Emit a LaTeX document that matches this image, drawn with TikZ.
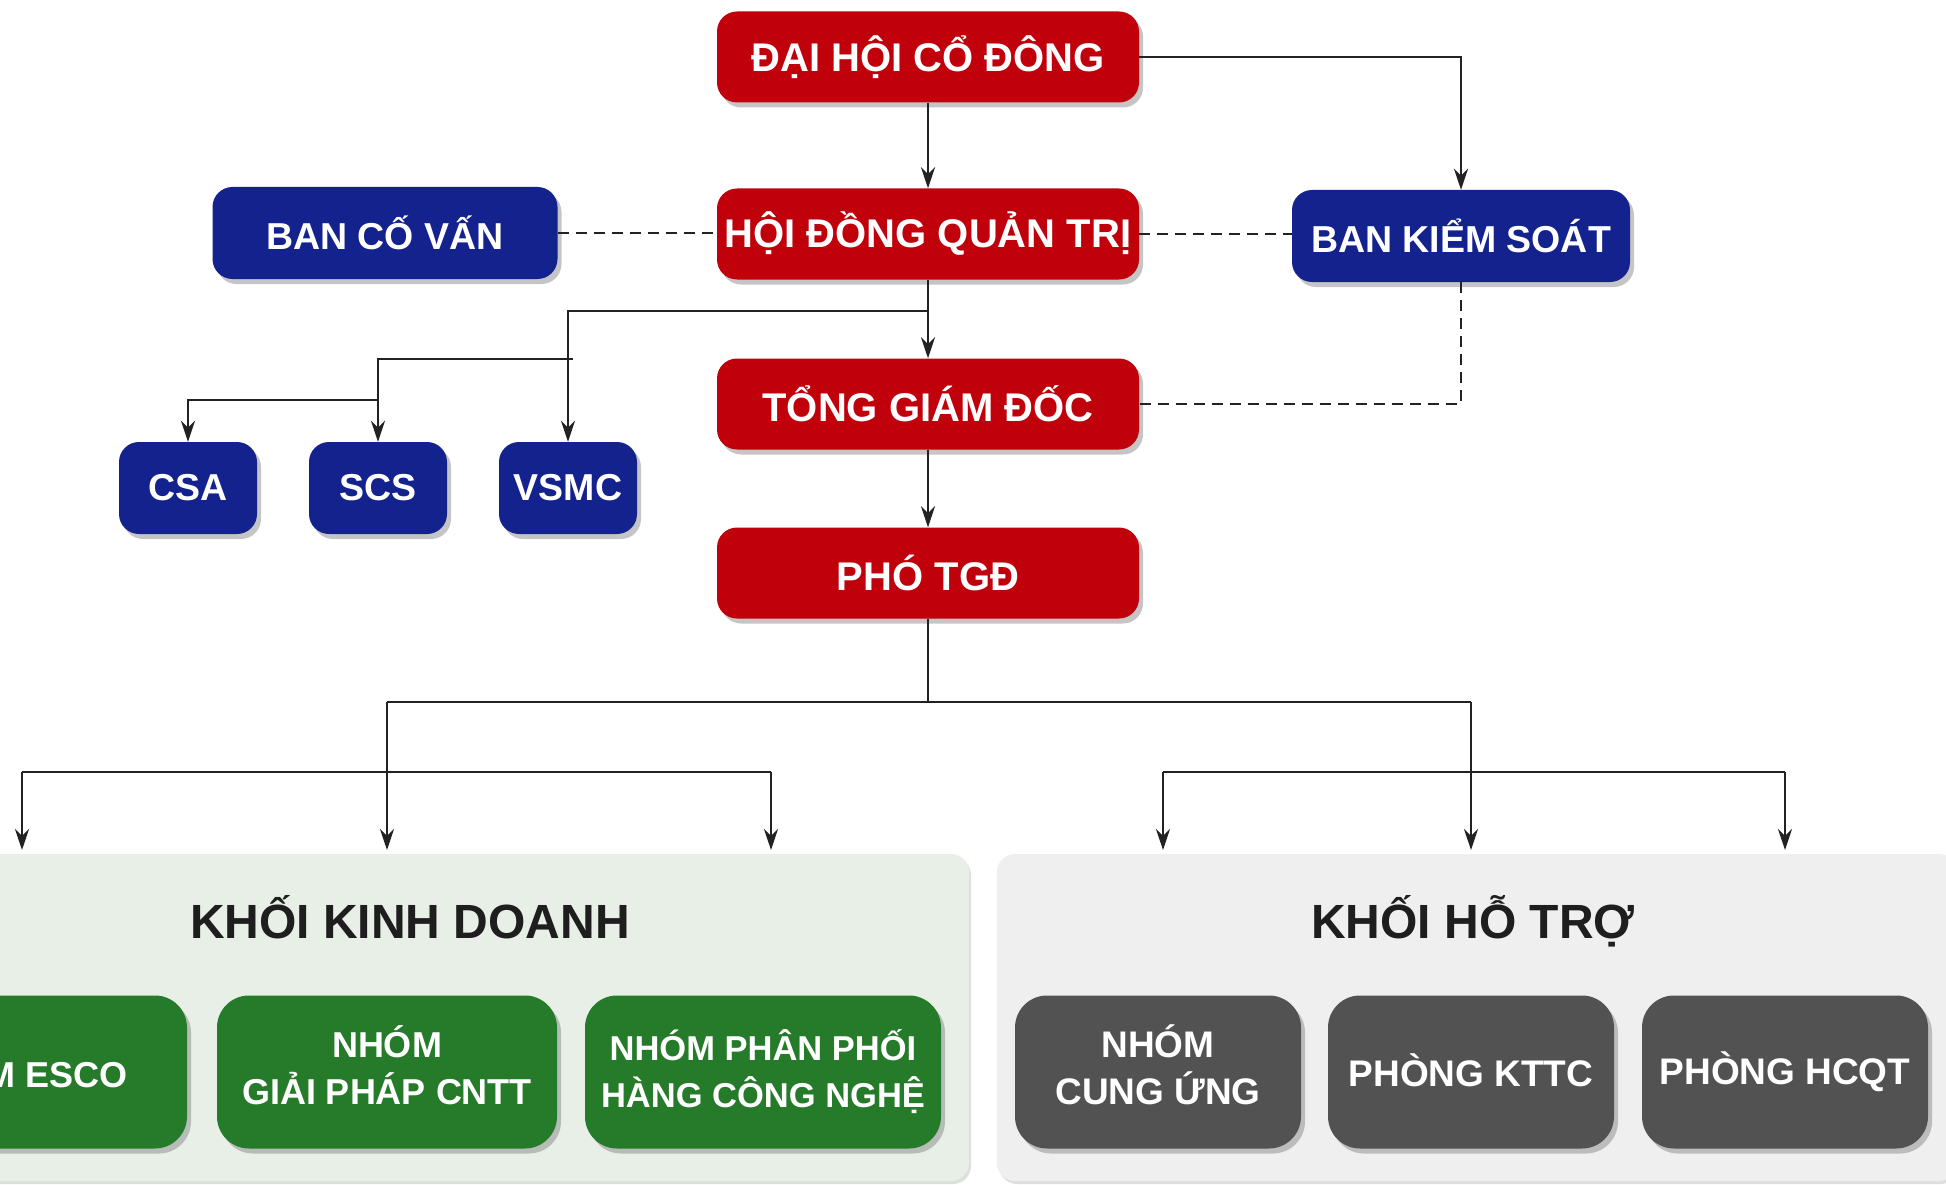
\documentclass[tikz,border=0pt]{standalone}
\usepackage{fontspec}
\setmainfont{Liberation Sans}
\usetikzlibrary{arrows.meta,shadows}
\definecolor{redbox}{HTML}{C0000B}
\definecolor{bluebox}{HTML}{13228C}
\definecolor{greenbox}{HTML}{267B2A}
\definecolor{graybox}{HTML}{525252}
\definecolor{greenpanel}{HTML}{E7EFE6}
\definecolor{graypanel}{HTML}{EFEFEF}
\definecolor{linecol}{HTML}{222222}
\definecolor{titlecol}{HTML}{1E1E1E}
\begin{document}
\begin{tikzpicture}[x=1pt,y=-1pt,
  box/.style={rounded corners=20pt, text=white, align=center, inner sep=0pt,
    drop shadow={shadow xshift=4pt,shadow yshift=-5pt,opacity=0.45}},
  redbox/.style={box, fill=redbox, minimum width=422pt, minimum height=91pt,
    font=\bfseries\fontsize{40}{46}\selectfont},
  bluebox/.style={box, fill=bluebox, minimum height=92pt,
    font=\bfseries\fontsize{37.5}{43}\selectfont},
  greenbox/.style={box, rounded corners=32pt, fill=greenbox, minimum height=153pt,
    font=\bfseries\fontsize{36}{47}\selectfont},
  graybox/.style={box, rounded corners=32pt, fill=graybox, minimum width=286pt, minimum height=153pt,
    font=\bfseries\fontsize{37}{47}\selectfont},
  panel/.style={rounded corners=18pt, inner sep=0pt,
    drop shadow={shadow xshift=2pt,shadow yshift=-3pt,opacity=0.25}},
  paneltitle/.style={text=titlecol, font=\bfseries\fontsize{48}{54}\selectfont},
  line/.style={draw=linecol, line width=2.8pt},
  conn/.style={line, -{Stealth[length=21pt,width=14pt]}},
  dashline/.style={draw=linecol, line width=2.8pt, dash pattern=on 11pt off 7pt}
]
\useasboundingbox (0,0) rectangle (1946,1185);
\clip (0,0) rectangle (1946,1185);
\fill[white] (0,0) rectangle (1946,1185);

% top nodes
\node[redbox] (dh) at (928,57) {ĐẠI HỘI CỔ ĐÔNG};
\node[redbox] (hd) at (928,234) {HỘI ĐỒNG QUẢN TRỊ};
\node[redbox] (tgd) at (928,404) {TỔNG GIÁM ĐỐC};
\node[redbox] (pho) at (928,573) {PHÓ TGĐ};
\node[bluebox, minimum width=345pt] (bcv) at (385,233) {BAN CỐ VẤN};
\node[bluebox, minimum width=338pt] (bks) at (1461,236) {BAN KIỂM SOÁT};
\node[bluebox, minimum width=138pt] (csa) at (188,488) {CSA};
\node[bluebox, minimum width=138pt] (scs) at (378,488) {SCS};
\node[bluebox, minimum width=138pt] (vsmc) at (568,488) {VSMC};

% panels
\node[panel, fill=greenpanel, minimum width=1009pt, minimum height=327pt] (kd) at (464.5,1017.5) {};
\node[panel, fill=graypanel, minimum width=960pt, minimum height=327pt] (ht) at (1477,1017.5) {};
\node[paneltitle] (kdt) at (410,917) {KHỐI KINH DOANH};
\node[paneltitle] (htt) at (1473,921) {KHỐI HỖ TRỢ};

% business boxes
\node[greenbox, minimum width=340pt] (esco) at (17,1072) {NHÓM ESCO};
\node[greenbox, minimum width=340pt] (gp) at (387,1072) {\raisebox{3pt}{\begin{tabular}{@{}c@{}}NHÓM\\GIẢI PHÁP CNTT\end{tabular}}};
\node[greenbox, minimum width=356pt, font=\bfseries\fontsize{34.5}{47}\selectfont] (pp) at (763,1072) {NHÓM PHÂN PHỐI\\HÀNG CÔNG NGHỆ};
% support boxes
\node[graybox] (cu) at (1158,1072) {\raisebox{3pt}{\begin{tabular}{@{}c@{}}NHÓM\\CUNG ỨNG\end{tabular}}};
\node[graybox] (kt) at (1471,1072) {\raisebox{4pt}{PHÒNG KTTC}};
\node[graybox] (hc) at (1785,1072) {PHÒNG HCQT};

% upper connectors
\draw[conn] (dh) -- (hd);
\draw[conn] (dh.east) -| (bks.north);
\draw[dashline] (bcv.east) -- (bcv.east -| hd.west);
\draw[dashline] (hd.east) -- (hd.east -| bks.west);
\draw[dashline] (bks.south) |- (tgd.east);
\draw[conn] (hd) -- (tgd);
\draw[conn] (tgd) -- (pho);

\coordinate (j1) at (928,311);
\coordinate (j2) at (573,359);
\coordinate (j3) at (378,400);
\draw[conn] (j1) -| (vsmc.north);
\draw[conn] (j2) -| (scs.north);
\draw[conn] (j3) -| (csa.north);

% lower connectors
\coordinate (b0) at (928,702);
\coordinate (bl) at (387,702);
\coordinate (br) at (1471,702);
\coordinate (ll) at (22,772);
\coordinate (lr) at (771,772);
\coordinate (rl) at (1163,772);
\coordinate (rr) at (1785,772);
\coordinate (a1) at (22,850);
\coordinate (a2) at (387,850);
\coordinate (a3) at (771,850);
\coordinate (a4) at (1163,850);
\coordinate (a5) at (1471,850);
\coordinate (a6) at (1785,850);
\draw[line] (pho.south) -- (b0);
\draw[line] (bl) -- (br);
\draw[line] (ll) -- (lr);
\draw[line] (rl) -- (rr);
\draw[conn] (bl) -- (a2);
\draw[conn] (ll) -- (a1);
\draw[conn] (lr) -- (a3);
\draw[conn] (br) -- (a5);
\draw[conn] (rl) -- (a4);
\draw[conn] (rr) -- (a6);
\end{tikzpicture}
\end{document}
